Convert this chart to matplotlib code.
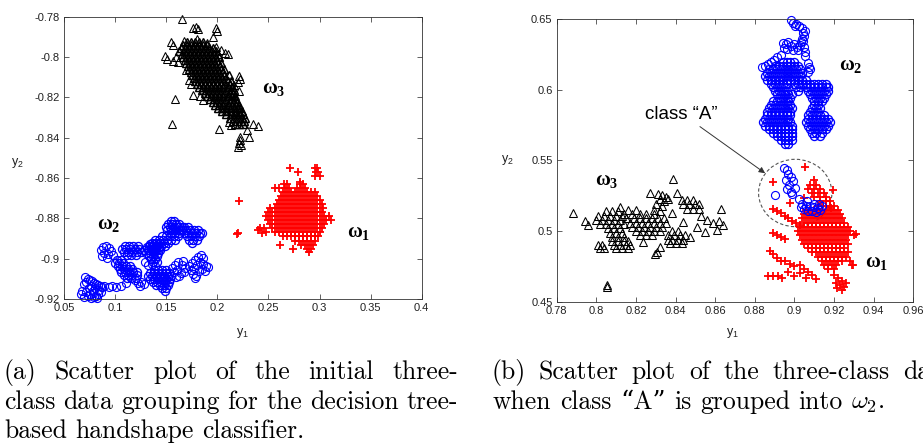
import numpy as np
import matplotlib
matplotlib.use("Agg")
import matplotlib.pyplot as plt
from matplotlib.patches import Ellipse
from matplotlib.ticker import FuncFormatter

plt.rcParams['font.family'] = ['Liberation Sans', 'DejaVu Sans']

# ---------------------------------------------------------------- data
# Panel (a): initial three-class grouping.  Dense parts are given as
# rows (y2, [y1 ...]); isolated samples as (y1, y2) pairs.
a_w3_rows = [
    (-0.7925, [0.170, 0.174, 0.178, 0.182, 0.186]),
    (-0.7940, [0.166, 0.170, 0.174, 0.178, 0.182, 0.186, 0.190]),
    (-0.7955, [0.164, 0.168, 0.172, 0.176, 0.180, 0.184, 0.188, 0.192, 0.196]),
    (-0.7970, [0.163, 0.167, 0.171, 0.175, 0.179, 0.183, 0.187, 0.191, 0.195, 0.199]),
    (-0.7985, [0.165, 0.169, 0.173, 0.177, 0.181, 0.185, 0.189, 0.193, 0.197, 0.201]),
    (-0.8000, [0.166, 0.170, 0.174, 0.178, 0.182, 0.186, 0.190, 0.194, 0.198, 0.202]),
    (-0.8015, [0.168, 0.172, 0.176, 0.180, 0.184, 0.188, 0.192, 0.196, 0.200]),
    (-0.8030, [0.169, 0.173, 0.177, 0.181, 0.185, 0.189, 0.193, 0.197, 0.201, 0.204]),
    (-0.8045, [0.171, 0.175, 0.179, 0.183, 0.187, 0.191, 0.195, 0.199, 0.203]),
    (-0.8060, [0.172, 0.176, 0.180, 0.184, 0.188, 0.192, 0.196, 0.200, 0.204, 0.207]),
    (-0.8075, [0.174, 0.178, 0.182, 0.186, 0.190, 0.194, 0.198, 0.202, 0.206]),
    (-0.8090, [0.175, 0.179, 0.183, 0.187, 0.191, 0.195, 0.199, 0.203, 0.207, 0.211]),
    (-0.8105, [0.177, 0.181, 0.185, 0.189, 0.193, 0.197, 0.201, 0.205, 0.209]),
    (-0.8120, [0.178, 0.182, 0.186, 0.190, 0.194, 0.198, 0.202, 0.206, 0.210, 0.213]),
    (-0.8135, [0.180, 0.184, 0.188, 0.192, 0.196, 0.200, 0.204, 0.208, 0.212]),
    (-0.8150, [0.182, 0.186, 0.190, 0.194, 0.198, 0.202, 0.206, 0.210, 0.214]),
    (-0.8165, [0.185, 0.189, 0.193, 0.197, 0.201, 0.205, 0.209, 0.213, 0.216]),
    (-0.8180, [0.188, 0.192, 0.196, 0.200, 0.204, 0.208, 0.212, 0.215]),
    (-0.8195, [0.190, 0.194, 0.198, 0.202, 0.206, 0.210, 0.214, 0.217]),
    (-0.8210, [0.193, 0.197, 0.201, 0.205, 0.209, 0.213, 0.217]),
    (-0.8225, [0.196, 0.200, 0.204, 0.208, 0.212, 0.216, 0.219]),
    (-0.8240, [0.198, 0.202, 0.206, 0.210, 0.214, 0.218, 0.221]),
    (-0.8255, [0.201, 0.205, 0.209, 0.213, 0.217, 0.221]),
    (-0.8270, [0.205, 0.209, 0.213, 0.217, 0.221, 0.224]),
    (-0.8285, [0.209, 0.213, 0.217, 0.221, 0.225]),
    (-0.8300, [0.212, 0.216, 0.220, 0.224, 0.227]),
    (-0.8315, [0.215, 0.219, 0.223, 0.226]),
    (-0.8330, [0.217, 0.221, 0.225]),
]
a_w3_pts = [
    (0.165, -0.781), (0.176, -0.7855), (0.179, -0.785), (0.181, -0.786),
    (0.199, -0.7855), (0.1995, -0.787), (0.155, -0.7925), (0.157, -0.794),
    (0.167, -0.792), (0.180, -0.791), (0.190, -0.793), (0.199, -0.795),
    (0.204, -0.7965), (0.208, -0.798), (0.210, -0.7985), (0.149, -0.7995),
    (0.151, -0.801), (0.157, -0.802), (0.162, -0.8025), (0.160, -0.800),
    (0.159, -0.821), (0.156, -0.833), (0.202, -0.8355), (0.211, -0.832),
    (0.213, -0.8335), (0.221, -0.8095), (0.222, -0.811), (0.220, -0.8125),
    (0.221, -0.817), (0.216, -0.814), (0.235, -0.833), (0.240, -0.834),
    (0.231, -0.8395), (0.229, -0.836), (0.222, -0.8395), (0.222, -0.841),
    (0.221, -0.8425), (0.220, -0.8445), (0.223, -0.8435), (0.172, -0.8115),
    (0.174, -0.8135), (0.176, -0.819), (0.183, -0.8195), (0.186, -0.8215),
    (0.169, -0.8065), (0.196, -0.790),
]

a_w2_rows = [
    # blob around (0.11, -0.905)
    (-0.9005, [0.102, 0.106]),
    (-0.9020, [0.100, 0.104, 0.108]),
    (-0.9035, [0.103, 0.107, 0.111, 0.115]),
    (-0.9050, [0.105, 0.109, 0.113, 0.117]),
    (-0.9065, [0.106, 0.110, 0.114, 0.118, 0.121]),
    (-0.9080, [0.109, 0.113, 0.117, 0.121]),
    (-0.9095, [0.112, 0.116, 0.120]),
    # blob around (0.115, -0.896)
    (-0.8935, [0.110, 0.114, 0.118, 0.122]),
    (-0.8950, [0.107, 0.111, 0.115, 0.119, 0.123]),
    (-0.8965, [0.109, 0.113, 0.117, 0.121, 0.125]),
    (-0.8980, [0.112, 0.116, 0.120]),
    # blob around (0.137, -0.896)
    (-0.8925, [0.134, 0.138, 0.142]),
    (-0.8940, [0.131, 0.135, 0.139, 0.143]),
    (-0.8955, [0.128, 0.132, 0.136, 0.140, 0.144]),
    (-0.8970, [0.130, 0.134, 0.138, 0.142]),
    (-0.8985, [0.133, 0.137, 0.141]),
    (-0.9000, [0.135, 0.139]),
    (-0.9015, [0.137, 0.141]),
    # blob around (0.145, -0.909)
    (-0.9055, [0.138, 0.142, 0.146, 0.150]),
    (-0.9070, [0.134, 0.138, 0.142, 0.146, 0.150, 0.153]),
    (-0.9085, [0.132, 0.136, 0.140, 0.144, 0.148, 0.152, 0.155]),
    (-0.9100, [0.134, 0.138, 0.142, 0.146, 0.150, 0.154]),
    (-0.9115, [0.137, 0.141, 0.145, 0.149, 0.153]),
    (-0.9130, [0.140, 0.144, 0.148, 0.152]),
    (-0.9145, [0.146, 0.150]),
    (-0.9160, [0.149]),
    # ridge rising to (0.163, -0.887)
    (-0.8875, [0.155, 0.159, 0.163]),
    (-0.8890, [0.146, 0.150, 0.154, 0.158, 0.162]),
    (-0.8905, [0.139, 0.143, 0.147, 0.151, 0.155, 0.159]),
    (-0.8920, [0.136, 0.140, 0.144, 0.148, 0.152]),
    (-0.8935, [0.133, 0.137, 0.141, 0.145, 0.149]),
    (-0.8950, [0.135, 0.139, 0.143]),
    # top blob around (0.157, -0.884) and its right neighbour
    (-0.8815, [0.155, 0.158]),
    (-0.8830, [0.152, 0.156, 0.160, 0.163]),
    (-0.8845, [0.150, 0.154, 0.158, 0.162, 0.165, 0.167, 0.171]),
    (-0.8860, [0.151, 0.155, 0.159, 0.163, 0.165, 0.169, 0.173, 0.177, 0.181]),
    (-0.8875, [0.167, 0.171, 0.175, 0.179, 0.183, 0.185]),
    (-0.8890, [0.170, 0.174, 0.178, 0.182]),
    (-0.8905, [0.172, 0.176, 0.180]),
    (-0.8920, [0.175]),
]
a_w2_pts = [
    (0.067, -0.9175), (0.070, -0.919), (0.073, -0.9185), (0.076, -0.9195),
    (0.079, -0.919), (0.082, -0.9195), (0.068, -0.916), (0.072, -0.9165),
    (0.078, -0.917), (0.081, -0.9185), (0.075, -0.9175), (0.083, -0.9175),
    (0.071, -0.909), (0.073, -0.910), (0.075, -0.9105), (0.072, -0.9115),
    (0.077, -0.911), (0.079, -0.912), (0.081, -0.9125), (0.083, -0.913),
    (0.085, -0.9135), (0.087, -0.914), (0.089, -0.9135), (0.076, -0.9135),
    (0.080, -0.9145), (0.084, -0.9155), (0.074, -0.9145), (0.070, -0.9125),
    (0.086, -0.9165), (0.078, -0.916),
    (0.094, -0.914), (0.097, -0.9135), (0.101, -0.914), (0.106, -0.9135),
    (0.111, -0.912),
    (0.086, -0.8955), (0.088, -0.894), (0.091, -0.8935), (0.094, -0.8945),
    (0.089, -0.897), (0.093, -0.8975), (0.096, -0.896), (0.098, -0.898),
    (0.087, -0.8985), (0.092, -0.8995),
    (0.119, -0.9105), (0.122, -0.912), (0.125, -0.9115), (0.128, -0.9125),
    (0.124, -0.9135),
    (0.129, -0.9015), (0.132, -0.903), (0.136, -0.9025), (0.139, -0.9035),
    (0.156, -0.9045), (0.159, -0.903), (0.162, -0.9015), (0.165, -0.903),
    (0.168, -0.9045), (0.158, -0.9065), (0.161, -0.9055), (0.164, -0.907),
    (0.167, -0.9065), (0.160, -0.909), (0.163, -0.9085), (0.166, -0.901),
    (0.172, -0.9035), (0.175, -0.902), (0.178, -0.9005), (0.181, -0.899),
    (0.184, -0.898), (0.186, -0.8995), (0.174, -0.9055), (0.177, -0.9045),
    (0.180, -0.903), (0.183, -0.9015), (0.186, -0.9025), (0.189, -0.9035),
    (0.191, -0.904), (0.176, -0.9075), (0.179, -0.9085), (0.182, -0.906),
    (0.185, -0.905), (0.188, -0.906), (0.178, -0.9095),
]

a_w1_rows = [
    (-0.855, [0.296, 0.298]),
    (-0.857, [0.297, 0.299]),
    (-0.859, [0.296, 0.300]),
    (-0.863, [0.265, 0.268, 0.281, 0.284]),
    (-0.865, [0.256, 0.260, 0.266, 0.270, 0.278, 0.282, 0.286]),
    (-0.867, [0.264, 0.268, 0.272, 0.276, 0.280, 0.284, 0.288, 0.292, 0.296]),
    (-0.869, [0.262, 0.266, 0.270, 0.274, 0.278, 0.282, 0.286, 0.290, 0.294, 0.298]),
    (-0.871, [0.260, 0.264, 0.268, 0.272, 0.276, 0.280, 0.284, 0.288, 0.292, 0.296, 0.300]),
    (-0.873, [0.258, 0.262, 0.266, 0.270, 0.274, 0.278, 0.282, 0.286, 0.290, 0.294, 0.298, 0.302]),
    (-0.875, [0.252, 0.256, 0.260, 0.264, 0.268, 0.272, 0.276, 0.280, 0.284, 0.288, 0.292, 0.296, 0.300, 0.303]),
    (-0.877, [0.250, 0.254, 0.258, 0.262, 0.266, 0.270, 0.274, 0.278, 0.282, 0.286, 0.290, 0.294, 0.298, 0.302]),
    (-0.879, [0.248, 0.252, 0.256, 0.260, 0.264, 0.268, 0.272, 0.276, 0.280, 0.284, 0.288, 0.292, 0.296, 0.300, 0.304, 0.309]),
    (-0.881, [0.250, 0.254, 0.258, 0.262, 0.266, 0.270, 0.274, 0.278, 0.282, 0.286, 0.290, 0.294, 0.298, 0.302, 0.306, 0.311]),
    (-0.883, [0.252, 0.256, 0.260, 0.264, 0.268, 0.272, 0.276, 0.280, 0.284, 0.288, 0.292, 0.296, 0.300, 0.304]),
    (-0.885, [0.242, 0.246, 0.254, 0.258, 0.262, 0.266, 0.270, 0.274, 0.278, 0.282, 0.286, 0.290, 0.294, 0.298, 0.302]),
    (-0.887, [0.248, 0.256, 0.260, 0.264, 0.268, 0.272, 0.276, 0.280, 0.284, 0.288, 0.292, 0.296, 0.300]),
    (-0.889, [0.264, 0.268, 0.272, 0.276, 0.280, 0.284, 0.288, 0.292, 0.296, 0.299]),
    (-0.891, [0.276, 0.280, 0.284, 0.288, 0.292, 0.296]),
    (-0.893, [0.261, 0.282, 0.286, 0.290, 0.294]),
    (-0.895, [0.274, 0.288, 0.292]),
    (-0.8965, [0.290]),
]
a_w1_pts = [
    (0.271, -0.855), (0.279, -0.857), (0.281, -0.862), (0.221, -0.8715),
    (0.219, -0.888), (0.220, -0.8875), (0.240, -0.886), (0.244, -0.8875),
]

# Panel (b): class "A" moved into ω2.
b_w2_rows = [
    (0.6195, [0.894, 0.896, 0.898, 0.900]),
    (0.6170, [0.890, 0.892, 0.894, 0.896, 0.898, 0.900, 0.902]),
    (0.6145, [0.887, 0.889, 0.891, 0.893, 0.895, 0.897, 0.899, 0.901, 0.903]),
    (0.6120, [0.886, 0.888, 0.890, 0.892, 0.894, 0.896, 0.898, 0.900, 0.902, 0.904]),
    (0.6095, [0.885, 0.887, 0.889, 0.891, 0.893, 0.895, 0.897, 0.899, 0.901, 0.903]),
    (0.6070, [0.886, 0.888, 0.890, 0.892, 0.894, 0.896, 0.898, 0.900, 0.902, 0.904, 0.906]),
    (0.6045, [0.888, 0.890, 0.892, 0.894, 0.896, 0.900, 0.902, 0.904, 0.906, 0.908, 0.910, 0.912, 0.914, 0.916]),
    (0.6020, [0.889, 0.891, 0.893, 0.895, 0.901, 0.903, 0.906, 0.908, 0.910, 0.912, 0.914, 0.916, 0.917]),
    (0.5995, [0.890, 0.892, 0.894, 0.896, 0.902, 0.907, 0.909, 0.911, 0.913, 0.915, 0.917]),
    (0.5970, [0.891, 0.893, 0.895, 0.897, 0.899, 0.908, 0.910, 0.912, 0.914, 0.916]),
    (0.5945, [0.892, 0.894, 0.896, 0.898, 0.909, 0.911, 0.913, 0.915]),
    (0.5920, [0.889, 0.891, 0.893, 0.895, 0.897, 0.910, 0.912, 0.914]),
    (0.5895, [0.888, 0.890, 0.892, 0.894, 0.896, 0.898, 0.910, 0.912]),
    (0.5870, [0.887, 0.889, 0.891, 0.893, 0.895, 0.897, 0.899, 0.909, 0.911, 0.913]),
    (0.5845, [0.886, 0.888, 0.890, 0.892, 0.894, 0.896, 0.898, 0.908, 0.910, 0.912]),
    (0.5820, [0.886, 0.888, 0.890, 0.892, 0.894, 0.896, 0.898, 0.907, 0.909, 0.911, 0.913, 0.915]),
    (0.5795, [0.885, 0.887, 0.889, 0.891, 0.893, 0.895, 0.897, 0.907, 0.909, 0.911, 0.913, 0.915, 0.917]),
    (0.5770, [0.884, 0.886, 0.888, 0.890, 0.892, 0.894, 0.896, 0.898, 0.906, 0.908, 0.910, 0.912, 0.914, 0.916, 0.918]),
    (0.5745, [0.885, 0.887, 0.889, 0.891, 0.893, 0.895, 0.897, 0.899, 0.907, 0.909, 0.911, 0.913, 0.915, 0.917]),
    (0.5720, [0.887, 0.889, 0.891, 0.893, 0.895, 0.897, 0.899, 0.908, 0.910, 0.912, 0.914, 0.916]),
    (0.5695, [0.889, 0.891, 0.893, 0.895, 0.897, 0.899, 0.909, 0.911, 0.914]),
    (0.5670, [0.891, 0.893, 0.895, 0.897, 0.899, 0.910, 0.913]),
    (0.5645, [0.893, 0.895, 0.897, 0.899]),
    (0.5620, [0.895, 0.897]),
]
b_w2_pts = [
    (0.8985, 0.6495), (0.8995, 0.6475), (0.901, 0.6465), (0.9025, 0.645),
    (0.904, 0.6435), (0.9055, 0.642), (0.9045, 0.6405), (0.9005, 0.6455),
    (0.894, 0.6335), (0.8955, 0.6325), (0.897, 0.634), (0.8985, 0.631),
    (0.900, 0.6325), (0.9015, 0.6305), (0.903, 0.632), (0.8945, 0.630),
    (0.8965, 0.629), (0.8995, 0.628), (0.902, 0.6285), (0.904, 0.636),
    (0.9035, 0.634), (0.905, 0.638), (0.9045, 0.6345), (0.905, 0.6305),
    (0.9055, 0.627), (0.9055, 0.624), (0.907, 0.619), (0.9075, 0.616),
    (0.908, 0.6145), (0.907, 0.613), (0.8835, 0.616), (0.885, 0.617),
    (0.8865, 0.6185), (0.888, 0.620), (0.8895, 0.6215), (0.891, 0.6235),
    (0.893, 0.6245),
]
# class "A" samples, now labelled ω2
b_classA_pts = [
    (0.8945, 0.5445), (0.8965, 0.543), (0.897, 0.5405), (0.8985, 0.538),
    (0.8995, 0.5355), (0.8975, 0.533), (0.896, 0.530), (0.8985, 0.528),
    (0.9005, 0.5305), (0.899, 0.526), (0.8902, 0.5256), (0.8955, 0.5365),
    (0.9025, 0.5225), (0.904, 0.5195), (0.906, 0.518), (0.908, 0.5175),
    (0.910, 0.517), (0.912, 0.5165), (0.905, 0.5155), (0.907, 0.5145),
    (0.909, 0.514), (0.911, 0.5135), (0.913, 0.515), (0.9035, 0.517),
    (0.9065, 0.521), (0.910, 0.5195), (0.9125, 0.519), (0.914, 0.5175),
]

b_w3_rows = [
    (0.514, [0.805, 0.808, 0.811]),
    (0.511, [0.801, 0.804, 0.807, 0.810, 0.813]),
    (0.508, [0.800, 0.803, 0.806, 0.809, 0.812]),
    (0.505, [0.802, 0.805, 0.808, 0.811, 0.814]),
    (0.502, [0.806, 0.809, 0.812]),
    (0.499, [0.807, 0.810, 0.813]),
    (0.496, [0.808, 0.811, 0.814]),
    (0.493, [0.808, 0.811, 0.814, 0.816]),
    (0.490, [0.801, 0.803, 0.809, 0.812, 0.815, 0.817]),
    (0.488, [0.802, 0.804, 0.810, 0.813, 0.816]),
    (0.515, [0.816, 0.820]),
    (0.512, [0.814, 0.818, 0.822, 0.825, 0.829]),
    (0.509, [0.815, 0.819, 0.822, 0.825, 0.828, 0.831, 0.834]),
    (0.506, [0.817, 0.820, 0.823, 0.826, 0.829, 0.832, 0.835]),
    (0.503, [0.818, 0.821, 0.824, 0.827, 0.830, 0.833]),
    (0.500, [0.820, 0.823, 0.826, 0.829, 0.832, 0.838, 0.841]),
    (0.497, [0.822, 0.825, 0.828, 0.836, 0.839, 0.842, 0.845]),
    (0.494, [0.836, 0.838, 0.841, 0.844]),
    (0.4915, [0.837, 0.840, 0.843]),
    (0.522, [0.843, 0.846, 0.849]),
    (0.519, [0.844, 0.847, 0.850, 0.852]),
    (0.516, [0.846, 0.849, 0.852]),
]
b_w3_pts = [
    (0.831, 0.526), (0.833, 0.5255), (0.835, 0.524), (0.832, 0.5225),
    (0.834, 0.521), (0.836, 0.5225), (0.830, 0.519), (0.833, 0.518),
    (0.829, 0.515), (0.832, 0.5145), (0.856, 0.508), (0.851, 0.503),
    (0.855, 0.4995), (0.861, 0.501), (0.862, 0.5075), (0.863, 0.516),
    (0.859, 0.506), (0.864, 0.5045), (0.853, 0.511), (0.788, 0.5126),
    (0.7945, 0.5075), (0.796, 0.5045), (0.8052, 0.4606), (0.8055, 0.4615),
    (0.827, 0.5267), (0.8385, 0.5369), (0.8406, 0.5267), (0.8473, 0.496),
    (0.8305, 0.4854), (0.8296, 0.4838), (0.8237, 0.4925), (0.832, 0.489),
    (0.844, 0.5067), (0.838, 0.5126), (0.812, 0.517),
]

b_w1_rows = [
    (0.536, [0.910]),
    (0.533, [0.908, 0.911]),
    (0.530, [0.907, 0.910, 0.913]),
    (0.527, [0.909, 0.912, 0.915]),
    (0.524, [0.910, 0.913, 0.916]),
    (0.521, [0.913, 0.916, 0.918]),
    (0.518, [0.912, 0.914, 0.916, 0.918, 0.920]),
    (0.515, [0.906, 0.908, 0.910, 0.912, 0.914, 0.916, 0.918, 0.920, 0.922]),
    (0.512, [0.905, 0.907, 0.909, 0.911, 0.913, 0.915, 0.917, 0.919, 0.921, 0.923]),
    (0.509, [0.904, 0.906, 0.908, 0.910, 0.912, 0.914, 0.916, 0.918, 0.920, 0.922, 0.924]),
    (0.506, [0.905, 0.907, 0.909, 0.911, 0.913, 0.915, 0.917, 0.919, 0.921, 0.923, 0.925]),
    (0.503, [0.903, 0.905, 0.907, 0.909, 0.911, 0.913, 0.915, 0.917, 0.919, 0.921, 0.923, 0.925, 0.927]),
    (0.500, [0.902, 0.904, 0.906, 0.908, 0.910, 0.912, 0.914, 0.916, 0.918, 0.920, 0.922, 0.924, 0.926, 0.928]),
    (0.497, [0.903, 0.905, 0.907, 0.909, 0.911, 0.913, 0.915, 0.917, 0.919, 0.921, 0.923, 0.925, 0.927, 0.930]),
    (0.494, [0.904, 0.906, 0.908, 0.910, 0.912, 0.914, 0.916, 0.918, 0.920, 0.922, 0.924, 0.926]),
    (0.491, [0.905, 0.907, 0.909, 0.911, 0.913, 0.915, 0.917, 0.919, 0.921, 0.923, 0.925, 0.927]),
    (0.488, [0.907, 0.909, 0.911, 0.913, 0.915, 0.917, 0.919, 0.921, 0.923, 0.925]),
    (0.485, [0.909, 0.911, 0.913, 0.915, 0.917, 0.919, 0.921, 0.923, 0.925, 0.927]),
    (0.482, [0.912, 0.914, 0.916, 0.918, 0.920, 0.922, 0.924, 0.926]),
    (0.479, [0.914, 0.916, 0.918, 0.920, 0.922, 0.924, 0.928]),
    (0.476, [0.915, 0.917, 0.919, 0.921, 0.929]),
    (0.473, [0.917, 0.920]),
]
b_w1_pts = [
    (0.920, 0.469), (0.922, 0.467), (0.924, 0.465), (0.921, 0.4635),
    (0.923, 0.462), (0.925, 0.4605), (0.924, 0.458), (0.926, 0.463),
    (0.9215, 0.460), (0.895, 0.479), (0.898, 0.477), (0.900, 0.475),
    (0.903, 0.476), (0.905, 0.473), (0.907, 0.471), (0.909, 0.469),
    (0.903, 0.470), (0.900, 0.468), (0.897, 0.471), (0.911, 0.466),
    (0.906, 0.467), (0.889, 0.4985), (0.891, 0.4975), (0.893, 0.496),
    (0.895, 0.4945), (0.8875, 0.486), (0.889, 0.4835), (0.891, 0.481),
    (0.893, 0.479), (0.8865, 0.4685), (0.889, 0.4685), (0.8915, 0.468),
    (0.8935, 0.4665), (0.889, 0.516), (0.891, 0.514), (0.893, 0.5125),
    (0.895, 0.511), (0.897, 0.509), (0.899, 0.507), (0.901, 0.5055),
    (0.903, 0.504), (0.8894, 0.535), (0.9054, 0.5456), (0.8978, 0.520),
    (0.9048, 0.5237), (0.9197, 0.529), (0.9185, 0.5165), (0.931, 0.498),
    (0.9295, 0.476),
]

# axis ranges and ticks
a_xlim, a_ylim = (0.05, 0.4), (-0.92, -0.78)
a_xticks = [0.05, 0.1, 0.15, 0.2, 0.25, 0.3, 0.35, 0.4]
a_yticks = [-0.92, -0.9, -0.88, -0.86, -0.84, -0.82, -0.8, -0.78]
b_xlim, b_ylim = (0.78, 0.96), (0.45, 0.65)
b_xticks = [0.78, 0.8, 0.82, 0.84, 0.86, 0.88, 0.9, 0.92, 0.94, 0.96]
b_yticks = [0.45, 0.5, 0.55, 0.6, 0.65]

# class "A" region and its pointer
classA_center, classA_size = (0.9004, 0.527), (0.037, 0.0477)
classA_label_pos = (0.8246, 0.5792)
arrow_from, arrow_to = (0.8523, 0.574), (0.8852, 0.541)

# class labels: (text, y1, y2)
a_class_labels = [('ω_3', 0.2434, -0.818), ('ω_2', 0.082, -0.8855), ('ω_1', 0.3266, -0.8894)]
b_class_labels = [('ω_2', 0.9227, 0.6141), ('ω_3', 0.7993, 0.5327), ('ω_1', 0.9357, 0.4748)]

caption_a = [["(a)", "Scatter", "plot", "of", "the", "initial", "three-"],
             ["class", "data", "grouping", "for", "the", "decision", "tree-"],
             ["based", "handshape", "classifier."]]
caption_b = [["(b)", "Scatter", "plot", "of", "the", "three-class", "data"],
             ["when", "class", "\u201cA\u201d", "is", "grouped", "into", r"$\omega_2$."]]


def collect(rows, pts):
    xs = [x for y, row in rows for x in row] + [p[0] for p in pts]
    ys = [y for y, row in rows for x in row] + [p[1] for p in pts]
    return np.array(xs), np.array(ys)


# ---------------------------------------------------------------- figure
W, H = 923, 445
fig = plt.figure(figsize=(W / 100, H / 100), dpi=100)
axA = fig.add_axes([64 / W, (H - 299) / H, 357.7 / W, 282.3 / H])
axB = fig.add_axes([556.7 / W, (H - 301.7) / H, 356.6 / W, 282.4 / H])

tri = dict(ls='none', marker='^', ms=5.4, mfc='none', mec='black', mew=0.75, clip_on=False)
circ = dict(ls='none', marker='o', ms=5.8, mfc='none', mec='#0000ff', mew=0.8, clip_on=False)
plus = dict(ls='none', marker='+', ms=6.2, mec='#ff0000', mew=1.3, clip_on=False)

fmt = FuncFormatter(lambda v, p: f'{v:g}')


def style(ax, xlim, ylim, xt, yt):
    ax.set_xlim(*xlim)
    ax.set_ylim(*ylim)
    ax.set_xticks(xt)
    ax.set_yticks(yt)
    ax.xaxis.set_major_formatter(fmt)
    ax.yaxis.set_major_formatter(fmt)
    ax.tick_params(direction='in', top=True, right=True, length=3.5, width=0.5,
                   labelsize=8, pad=3, colors='#222222')
    for s in ax.spines.values():
        s.set_linewidth(0.6)
        s.set_color('#333333')


def class_label(ax, txt, x, y):
    ax.text(x, y, r'$\mathregular{%s}$' % txt, fontsize=14.5, family='Liberation Serif',
            fontweight='bold', va='baseline', ha='left')


# panel (a)
axA.plot(*collect(a_w3_rows, []), **{**tri, 'mew': 1.05})
axA.plot(*collect([], a_w3_pts), **tri)
axA.plot(*collect(a_w2_rows, []), **{**circ, 'mew': 0.95})
axA.plot(*collect([], a_w2_pts), **circ)
axA.plot(*collect(a_w1_rows, a_w1_pts), **plus)
style(axA, a_xlim, a_ylim, a_xticks, a_yticks)
for txt, x, y in a_class_labels:
    class_label(axA, txt, x, y)

# panel (b)
axB.plot(*collect(b_w3_rows, b_w3_pts), **tri)
axB.plot(*collect(b_w1_rows, b_w1_pts), **plus)
axB.plot(*collect([], b_classA_pts), **circ)
axB.plot(*collect(b_w2_rows, []), **{**circ, 'mew': 0.95})
axB.plot(*collect([], b_w2_pts), **circ)
style(axB, b_xlim, b_ylim, b_xticks, b_yticks)
for txt, x, y in b_class_labels:
    class_label(axB, txt, x, y)

axB.add_patch(Ellipse(classA_center, classA_size[0], classA_size[1], fill=False,
                      ec='#555555', lw=0.8, ls=(0, (3, 2))))
axB.annotate('', xy=arrow_to, xytext=arrow_from,
             arrowprops=dict(arrowstyle='-|>', color='#333333', lw=0.7,
                             mutation_scale=9, shrinkA=0, shrinkB=0))
axB.text(*classA_label_pos, 'class \u201cA\u201d', fontsize=13.5, va='baseline', ha='left')

# axis labels
for ax, xc, yc in [(axA, (0.5, -0.12), (-0.131, 0.482)),
                   (axB, (0.494, -0.111), (-0.137, 0.502))]:
    ax.set_xlabel(r'$\mathregular{y_1}$', fontsize=9, va='center', color='#222222')
    ax.set_ylabel(r'$\mathregular{y_2}$', fontsize=9, rotation=0, ha='center',
                  va='center', color='#222222')
    ax.xaxis.set_label_coords(*xc)
    ax.yaxis.set_label_coords(*yc)

# captions, justified like typeset subfigure text
cap_family = ['cmr10', 'DejaVu Serif']
cap_size = 18.5
renderer = fig.canvas.get_renderer()


def place_line(words, x0, ybase, x1=None, last_start=None):
    texts = []
    for w in words:
        extra = dict(math_fontfamily='cm') if '$' in w else {}
        texts.append(fig.text(0, 1 - ybase / H, w, fontsize=cap_size, family=cap_family,
                              va='baseline', ha='left', **extra))
    widths = [t.get_window_extent(renderer).width for t in texts]
    if last_start is not None:
        x1 = last_start + widths[-1]
    if x1 is None:
        gap = 0.333 * cap_size * 100 / 72
    else:
        gap = (x1 - x0 - sum(widths)) / (len(words) - 1)
    x = x0
    for t, w in zip(texts, widths):
        t.set_x(x / W)
        x += w + gap


baselines = [379, 409, 438]
place_line(caption_a[0], 4, baselines[0], x1=458)
place_line(caption_a[1], 4, baselines[1], x1=458)
place_line(caption_a[2], 4, baselines[2])
place_line(caption_b[0], 491, baselines[0], last_start=903)
place_line(caption_b[1], 493, baselines[1])

fig.savefig('out.png', dpi=100)
